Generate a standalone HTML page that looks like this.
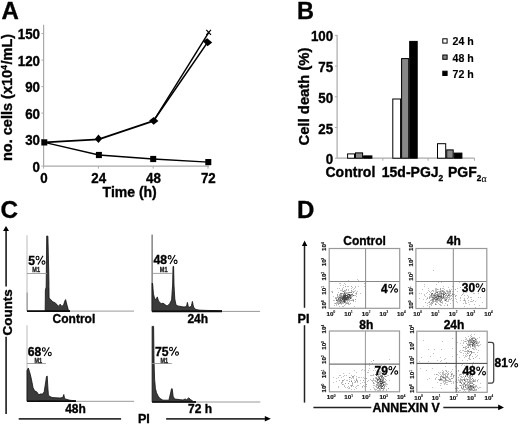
<!DOCTYPE html>
<html><head><meta charset="utf-8"><style>
html,body{margin:0;padding:0;background:#fff;width:520px;height:424px;overflow:hidden}
svg{display:block}
text{font-family:"Liberation Sans", sans-serif}
</style></head><body>
<svg width="520" height="424" viewBox="0 0 520 424" font-family='"Liberation Sans", sans-serif'><defs><filter id="bl" filterUnits="userSpaceOnUse" x="0" y="0" width="520" height="424"><feGaussianBlur stdDeviation="0.35"/></filter></defs><rect width="520" height="424" fill="#fff"/><g filter="url(#bl)"><text x="1.4" y="18.9" font-size="24" text-anchor="start" font-weight="bold" fill="#000" stroke="#000" stroke-width="0.35" >A</text>
<line x1="43.6" y1="24.7" x2="43.6" y2="166.1" stroke="#aaa" stroke-width="1.2" />
<line x1="43.6" y1="166.1" x2="209" y2="166.1" stroke="#aaa" stroke-width="1.2" />
<line x1="41.4" y1="166.1" x2="43.6" y2="166.1" stroke="#aaa" stroke-width="1" />
<text transform="translate(40,171.7) scale(0.965,1)" font-size="13.8" text-anchor="end" font-weight="bold" fill="#000" stroke="#000" stroke-width="0.35" >0</text>
<line x1="41.4" y1="139.6" x2="43.6" y2="139.6" stroke="#aaa" stroke-width="1" />
<text transform="translate(40,145.2) scale(0.965,1)" font-size="13.8" text-anchor="end" font-weight="bold" fill="#000" stroke="#000" stroke-width="0.35" >30</text>
<line x1="41.4" y1="113.1" x2="43.6" y2="113.1" stroke="#aaa" stroke-width="1" />
<text transform="translate(40,118.7) scale(0.965,1)" font-size="13.8" text-anchor="end" font-weight="bold" fill="#000" stroke="#000" stroke-width="0.35" >60</text>
<line x1="41.4" y1="86.6" x2="43.6" y2="86.6" stroke="#aaa" stroke-width="1" />
<text transform="translate(40,92.2) scale(0.965,1)" font-size="13.8" text-anchor="end" font-weight="bold" fill="#000" stroke="#000" stroke-width="0.35" >90</text>
<line x1="41.4" y1="60.099999999999994" x2="43.6" y2="60.099999999999994" stroke="#aaa" stroke-width="1" />
<text transform="translate(40,65.7) scale(0.965,1)" font-size="13.8" text-anchor="end" font-weight="bold" fill="#000" stroke="#000" stroke-width="0.35" >120</text>
<line x1="41.4" y1="33.599999999999994" x2="43.6" y2="33.599999999999994" stroke="#aaa" stroke-width="1" />
<text transform="translate(40,39.2) scale(0.965,1)" font-size="13.8" text-anchor="end" font-weight="bold" fill="#000" stroke="#000" stroke-width="0.35" >150</text>
<line x1="43.6" y1="166.1" x2="43.6" y2="168.6" stroke="#aaa" stroke-width="1" />
<text transform="translate(43.9,182.6) scale(0.965,1)" font-size="13.8" text-anchor="middle" font-weight="bold" fill="#000" stroke="#000" stroke-width="0.35" >0</text>
<line x1="98.4" y1="166.1" x2="98.4" y2="168.6" stroke="#aaa" stroke-width="1" />
<text transform="translate(98.7,182.6) scale(0.965,1)" font-size="13.8" text-anchor="middle" font-weight="bold" fill="#000" stroke="#000" stroke-width="0.35" >24</text>
<line x1="153.2" y1="166.1" x2="153.2" y2="168.6" stroke="#aaa" stroke-width="1" />
<text transform="translate(153.5,182.6) scale(0.965,1)" font-size="13.8" text-anchor="middle" font-weight="bold" fill="#000" stroke="#000" stroke-width="0.35" >48</text>
<line x1="207.99999999999997" y1="166.1" x2="207.99999999999997" y2="168.6" stroke="#aaa" stroke-width="1" />
<text transform="translate(208.3,182.6) scale(0.965,1)" font-size="13.8" text-anchor="middle" font-weight="bold" fill="#000" stroke="#000" stroke-width="0.35" >72</text>
<text x="102.6" y="196.8" font-size="14" text-anchor="start" font-weight="bold" fill="#000" stroke="#000" stroke-width="0.35" >Time (h)</text>
<text transform="translate(12.4,161.0) rotate(-90)" font-size="14.5" font-weight="bold" stroke="#000" stroke-width="0.35">no. cells (x10<tspan font-size="8.3" dx="0.3" dy="-5.2">4</tspan><tspan dx="0.5" dy="5.2">/mL)</tspan></text>
<polyline points="44.3,142.4 98.9,155.0 153.2,159.0 208.3,162.1" fill="none" stroke="#000" stroke-width="1.3" stroke-linejoin="round"/>
<polyline points="153.6,120.8 208.8,32.3" fill="none" stroke="#000" stroke-width="1.45" stroke-linejoin="round"/>
<polyline points="153.6,120.8 207.7,42.1" fill="none" stroke="#000" stroke-width="1.55" stroke-linejoin="round"/>
<polyline points="44.3,142.4 98.5,139.4 153.6,120.9" fill="none" stroke="#000" stroke-width="1.9" stroke-linejoin="round"/>
<rect x="41.3" y="139.3" width="6" height="6.2" fill="#000"/>
<rect x="95.9" y="151.9" width="6" height="6.2" fill="#000"/>
<rect x="150.2" y="155.9" width="6" height="6.2" fill="#000"/>
<rect x="205.3" y="159.0" width="6" height="6.2" fill="#000"/>
<path d="M94.8,139.0 L98.5,134.6 L102.1,138.8 L98.5,143.1Z" fill="#000"/>
<path d="M149.2,120.5 L153.8,117.0 L158.4,121.0 L153.6,124.8Z" fill="#000"/>
<path d="M202.9,41.2 L207.2,38.3 L212.2,42.6 L207.6,46.2Z" fill="#000"/>
<path d="M206.3,29.9 L211,34.8 M211,29.9 L206.3,34.8" stroke="#000" stroke-width="1.2"/>
<text x="296.9" y="18.7" font-size="23.5" text-anchor="start" font-weight="bold" fill="#000" stroke="#000" stroke-width="0.35" >B</text>
<line x1="337.1" y1="35.1" x2="337.1" y2="158.2" stroke="#aaa" stroke-width="1.2" />
<line x1="337.1" y1="158.2" x2="474.5" y2="158.2" stroke="#aaa" stroke-width="1.2" />
<line x1="334.90000000000003" y1="158.2" x2="337.1" y2="158.2" stroke="#aaa" stroke-width="1" />
<text transform="translate(333.1,164.2) scale(0.965,1)" font-size="13.8" text-anchor="end" font-weight="bold" fill="#000" stroke="#000" stroke-width="0.35" >0</text>
<line x1="334.90000000000003" y1="127.475" x2="337.1" y2="127.475" stroke="#aaa" stroke-width="1" />
<text transform="translate(333.1,133.5) scale(0.965,1)" font-size="13.8" text-anchor="end" font-weight="bold" fill="#000" stroke="#000" stroke-width="0.35" >25</text>
<line x1="334.90000000000003" y1="96.74999999999999" x2="337.1" y2="96.74999999999999" stroke="#aaa" stroke-width="1" />
<text transform="translate(333.1,102.7) scale(0.965,1)" font-size="13.8" text-anchor="end" font-weight="bold" fill="#000" stroke="#000" stroke-width="0.35" >50</text>
<line x1="334.90000000000003" y1="66.02499999999998" x2="337.1" y2="66.02499999999998" stroke="#aaa" stroke-width="1" />
<text transform="translate(333.1,72.0) scale(0.965,1)" font-size="13.8" text-anchor="end" font-weight="bold" fill="#000" stroke="#000" stroke-width="0.35" >75</text>
<line x1="334.90000000000003" y1="35.29999999999998" x2="337.1" y2="35.29999999999998" stroke="#aaa" stroke-width="1" />
<text transform="translate(333.1,41.3) scale(0.965,1)" font-size="13.8" text-anchor="end" font-weight="bold" fill="#000" stroke="#000" stroke-width="0.35" >100</text>
<line x1="382.8" y1="158.2" x2="382.8" y2="160.7" stroke="#aaa" stroke-width="1" />
<line x1="428.1" y1="158.2" x2="428.1" y2="160.7" stroke="#aaa" stroke-width="1" />
<line x1="474.5" y1="158.2" x2="474.5" y2="160.7" stroke="#aaa" stroke-width="1" />
<rect x="347.6" y="153.9" width="6.899999999999977" height="4.299999999999983" fill="#fff" stroke="#000" stroke-width="1"/>
<rect x="355.5" y="152.9" width="7.100000000000023" height="5.299999999999983" fill="#888" stroke="#000" stroke-width="1"/>
<rect x="363.6" y="155.9" width="8.299999999999955" height="2.299999999999983" fill="#000" stroke="#000" stroke-width="1"/>
<rect x="392.8" y="99.0" width="7.800000000000011" height="59.19999999999999" fill="#fff" stroke="#000" stroke-width="1"/>
<rect x="401.6" y="58.6" width="7.099999999999966" height="99.6" fill="#888" stroke="#000" stroke-width="1"/>
<rect x="409.7" y="41.4" width="7.5" height="116.79999999999998" fill="#000" stroke="#000" stroke-width="1"/>
<rect x="437.5" y="143.7" width="8.199999999999989" height="14.5" fill="#fff" stroke="#000" stroke-width="1"/>
<rect x="446.7" y="149.9" width="6.5" height="8.299999999999983" fill="#888" stroke="#000" stroke-width="1"/>
<rect x="454.2" y="153.1" width="7.699999999999989" height="5.099999999999994" fill="#000" stroke="#000" stroke-width="1"/>
<rect x="442.8" y="38.8" width="4.3" height="4.3" fill="#fff" stroke="#000" stroke-width="1"/>
<text x="452.6" y="44.8" font-size="10.6" text-anchor="start" font-weight="bold" fill="#000" stroke="#000" stroke-width="0.15" >24 h</text>
<rect x="442.8" y="55.0" width="4.3" height="4.3" fill="#888" stroke="#000" stroke-width="1"/>
<text x="452.6" y="61.5" font-size="10.6" text-anchor="start" font-weight="bold" fill="#000" stroke="#000" stroke-width="0.15" >48 h</text>
<rect x="442.8" y="71.19999999999999" width="4.3" height="4.3" fill="#000" stroke="#000" stroke-width="1"/>
<text x="452.6" y="78.2" font-size="10.6" text-anchor="start" font-weight="bold" fill="#000" stroke="#000" stroke-width="0.15" >72 h</text>
<text x="325.5" y="176.6" font-size="14" text-anchor="start" font-weight="bold" fill="#000" stroke="#000" stroke-width="0.35" >Control</text>
<text x="381.8" y="176.6" font-size="14" text-anchor="start" font-weight="bold" fill="#000" stroke="#000" stroke-width="0.35" >15d-PGJ<tspan font-size="8.3" dy="4.6">2</tspan></text>
<text x="448.0" y="176.6" font-size="14" text-anchor="start" font-weight="bold" fill="#000" stroke="#000" stroke-width="0.35" >PGF<tspan font-size="8.2" dy="4.8">2</tspan><tspan font-weight="normal" font-size="9.8" stroke-width="0.1" dx="0.2" dy="0.6" font-family="Liberation Serif">α</tspan></text>
<text transform="translate(309.2,145.4) rotate(-90)" font-size="14.8" font-weight="bold" stroke="#000" stroke-width="0.35">Cell death (%)</text>
<text x="0.6" y="217.6" font-size="24.3" text-anchor="start" font-weight="bold" fill="#000" stroke="#000" stroke-width="0.35" >C</text>
<line x1="6.1" y1="229" x2="6.1" y2="286.5" stroke="#333" stroke-width="1.8" />
<line x1="6.1" y1="336.8" x2="6.1" y2="414" stroke="#333" stroke-width="1.8" />
<path d="M6.0,225.9 L9.0,231 L3.0,231Z" fill="#000"/>
<text transform="translate(11.8,335.4) rotate(-90)" font-size="13.4" font-weight="bold" stroke="#000" stroke-width="0.35">Counts</text>
<line x1="18.7" y1="418.9" x2="121.1" y2="418.9" stroke="#333" stroke-width="1.8" />
<line x1="166.1" y1="418.9" x2="266" y2="418.9" stroke="#333" stroke-width="1.8" />
<path d="M270.8,418.8 L264.8,416 L264.8,421.6Z" fill="#000"/>
<text x="137.9" y="422.8" font-size="12.6" text-anchor="start" font-weight="bold" fill="#000" stroke="#000" stroke-width="0.35" >PI</text>
<line x1="27.2" y1="292.4" x2="27.2" y2="311.1" stroke="#888" stroke-width="1.3" />
<line x1="27" y1="235.3" x2="27" y2="311.1" stroke="#bbb" stroke-width="1" />
<line x1="27" y1="311.1" x2="134" y2="311.1" stroke="#999" stroke-width="1" />
<path d="M45.2,311.1 L45.4,290 L46.2,287 L46.7,236 L47.9,236.2 L48.8,275 L49.1,298.2 L50.7,299.4 L52.4,301.5 L54.9,302.7 L56.9,304.4 L58.2,306.4 L60.2,304.2 L61.9,306.4 L63.6,304.8 L65.0,300.5 L65.6,299.6 L66.9,304.8 L68.5,310.5 L70,311.1Z" fill="#3a3a3a" stroke="#111" stroke-width="0.8" stroke-linejoin="round"/>
<line x1="27" y1="311.1" x2="70" y2="311.1" stroke="#111" stroke-width="1.6" />
<text x="52.6" y="323.2" font-size="12" text-anchor="start" font-weight="bold" fill="#000" stroke="#000" stroke-width="0.35" >Control</text>
<text x="28.3" y="264.5" font-size="12.2" text-anchor="start" font-weight="bold" fill="#000" stroke="#000" stroke-width="0.35" >5</text>
<g transform="translate(35.08,264.5) scale(12.2)" fill="none" stroke="#000" stroke-width="0.088"><ellipse cx="0.2" cy="-0.53" rx="0.12" ry="0.14"/><ellipse cx="0.69" cy="-0.16" rx="0.12" ry="0.14"/><line x1="0.65" y1="-0.715" x2="0.23" y2="0.01"/></g>
<line x1="27" y1="273.5" x2="47" y2="273.5" stroke="#999" stroke-width="0.9" />
<text transform="translate(32.300000000000004,271.8) scale(0.88,1)" font-size="6.3" text-anchor="start" font-weight="bold" fill="#222" stroke="#222" stroke-width="0.3" >M1</text>
<line x1="152.1" y1="234.6" x2="152.1" y2="311.4" stroke="#444" stroke-width="1" />
<line x1="152.1" y1="311.4" x2="260" y2="311.4" stroke="#999" stroke-width="1" />
<path d="M152.1,311.4 L152.1,283 L152.6,283.7 L153.5,294.2 L154.5,298 L155.5,299.5 L156.5,298.5 L157.3,296.9 L158.5,301 L160,302.5 L161,303.8 L163,303.2 L165.3,304.8 L167,306 L168.5,305 L169.6,303.8 L171.6,300 L172.6,285 L173.0,266.4 L173.6,266.4 L174.0,285 L174.8,299 L176,305 L178,306 L181,306.5 L184,307 L186.5,306.5 L187.4,302.4 L188.3,306.8 L190,307.3 L191.5,305.5 L192.4,301.4 L193.3,306 L194,308 L196,309.6 L200,310.2 L210,310.5 L222,310.9Z" fill="#3a3a3a" stroke="#111" stroke-width="0.8" stroke-linejoin="round"/>
<line x1="152.1" y1="311.4" x2="222" y2="311.4" stroke="#111" stroke-width="1.6" />
<text x="187.4" y="322.8" font-size="12" text-anchor="start" font-weight="bold" fill="#000" stroke="#000" stroke-width="0.35" >24h</text>
<text x="153.6" y="263.79999999999995" font-size="12.2" text-anchor="start" font-weight="bold" fill="#000" stroke="#000" stroke-width="0.35" >48</text>
<g transform="translate(167.17,263.79999999999995) scale(12.2)" fill="none" stroke="#000" stroke-width="0.088"><ellipse cx="0.2" cy="-0.53" rx="0.12" ry="0.14"/><ellipse cx="0.69" cy="-0.16" rx="0.12" ry="0.14"/><line x1="0.65" y1="-0.715" x2="0.23" y2="0.01"/></g>
<line x1="152.1" y1="273.4" x2="172" y2="273.4" stroke="#999" stroke-width="0.9" />
<text transform="translate(159.79999999999998,272.0) scale(0.88,1)" font-size="6.3" text-anchor="start" font-weight="bold" fill="#222" stroke="#222" stroke-width="0.3" >M1</text>
<line x1="27" y1="325.3" x2="27" y2="401.3" stroke="#bbb" stroke-width="1" />
<line x1="27" y1="401.3" x2="134.1" y2="401.3" stroke="#999" stroke-width="1" />
<path d="M27,401.3 L27,370.6 L28.3,368 L29.5,371.7 L30.9,377 L32,382.3 L33,387.6 L34.6,390.8 L36.7,391.8 L38.9,395 L39.9,394 L42.6,394 L44.2,391.8 L45.8,381.2 L46.5,376.5 L47.2,376 L47.8,386.5 L48.4,395 L50,396.6 L52,397.5 L56,397.8 L60,398 L62.8,397.5 L63.8,394.5 L64.6,398.5 L66,399.2 L70,400.3 L76,400.8Z" fill="#3a3a3a" stroke="#111" stroke-width="0.8" stroke-linejoin="round"/>
<line x1="27" y1="401.3" x2="76" y2="401.3" stroke="#111" stroke-width="1.6" />
<text x="65.2" y="413.2" font-size="12" text-anchor="start" font-weight="bold" fill="#000" stroke="#000" stroke-width="0.35" >48h</text>
<text x="27.8" y="355.9" font-size="12.2" text-anchor="start" font-weight="bold" fill="#000" stroke="#000" stroke-width="0.35" >68</text>
<g transform="translate(41.37,355.9) scale(12.2)" fill="none" stroke="#000" stroke-width="0.088"><ellipse cx="0.2" cy="-0.53" rx="0.12" ry="0.14"/><ellipse cx="0.69" cy="-0.16" rx="0.12" ry="0.14"/><line x1="0.65" y1="-0.715" x2="0.23" y2="0.01"/></g>
<line x1="27" y1="363.5" x2="45.9" y2="363.5" stroke="#999" stroke-width="0.9" />
<text transform="translate(34.5,363.09999999999997) scale(0.88,1)" font-size="6.3" text-anchor="start" font-weight="bold" fill="#222" stroke="#222" stroke-width="0.3" >M1</text>
<line x1="152.2" y1="326.0" x2="152.2" y2="402.0" stroke="#bbb" stroke-width="1" />
<line x1="152.2" y1="402.0" x2="260.3" y2="402.0" stroke="#999" stroke-width="1" />
<path d="M152.2,402.0 L152.2,326.4 L153.6,326.4 L154,360 L154.6,379.2 L155.4,388.3 L156.5,392.8 L158.2,396.2 L160,398.5 L163,400.2 L168.9,400.2 L170.4,394 L171.5,388.8 L172.2,388.8 L173.1,396.2 L174.5,399 L183,400 L185.3,399 L186.5,399.8 L188.7,397.9 L190.6,399.6 L193.3,401.5 L196,402.0Z" fill="#3a3a3a" stroke="#111" stroke-width="0.8" stroke-linejoin="round"/>
<line x1="152.2" y1="402.0" x2="196" y2="402.0" stroke="#111" stroke-width="1.6" />
<text x="188.1" y="413.2" font-size="12" text-anchor="start" font-weight="bold" fill="#000" stroke="#000" stroke-width="0.35" >72 h</text>
<text x="155.0" y="355.5" font-size="12.2" text-anchor="start" font-weight="bold" fill="#000" stroke="#000" stroke-width="0.35" >75</text>
<g transform="translate(168.57,355.5) scale(12.2)" fill="none" stroke="#000" stroke-width="0.088"><ellipse cx="0.2" cy="-0.53" rx="0.12" ry="0.14"/><ellipse cx="0.69" cy="-0.16" rx="0.12" ry="0.14"/><line x1="0.65" y1="-0.715" x2="0.23" y2="0.01"/></g>
<line x1="152.2" y1="363.5" x2="171.8" y2="363.5" stroke="#999" stroke-width="0.9" />
<text transform="translate(160.4,363.09999999999997) scale(0.88,1)" font-size="6.3" text-anchor="start" font-weight="bold" fill="#222" stroke="#222" stroke-width="0.3" >M1</text>
<text x="297.0" y="217.7" font-size="24" text-anchor="start" font-weight="bold" fill="#000" stroke="#000" stroke-width="0.35" >D</text>
<line x1="304.5" y1="245" x2="304.5" y2="307.8" stroke="#222" stroke-width="1.5" />
<line x1="304.5" y1="325.2" x2="304.5" y2="402.6" stroke="#222" stroke-width="1.5" />
<path d="M304.6,240.4 L307.3,246 L301.9,246Z" fill="#000"/>
<text x="297.6" y="323.4" font-size="12.6" text-anchor="start" font-weight="bold" fill="#000" stroke="#000" stroke-width="0.35" >PI</text>
<line x1="313.4" y1="407.5" x2="371.3" y2="407.5" stroke="#222" stroke-width="1.5" />
<line x1="443.3" y1="407.4" x2="499" y2="407.4" stroke="#222" stroke-width="1.5" />
<path d="M504,407.4 L498.2,404.6 L498.2,410.2Z" fill="#000"/>
<text x="372.4" y="412.4" font-size="12.4" text-anchor="start" font-weight="bold" fill="#000" stroke="#000" stroke-width="0.35" >ANNEXIN V</text>
<path d="M357 279h1v1h-1zM348 280h1v1h-1zM358 280h1v1h-1zM355 281h1v1h-1zM359 281h1v1h-1zM339 283h2v1h-2zM344 283h1v1h-1zM364 283h1v1h-1zM345 284h1v1h-1zM340 285h1v1h-1zM343 285h1v1h-1zM347 286h2v1h-2zM355 286h1v1h-1zM358 286h1v1h-1zM364 286h1v1h-1zM343 287h1v1h-1zM352 287h1v1h-1zM355 287h1v1h-1zM337 288h1v1h-1zM339 288h1v1h-1zM342 288h1v1h-1zM351 288h1v1h-1zM354 288h1v1h-1zM342 289h1v1h-1zM348 289h1v1h-1zM353 289h1v1h-1zM340 290h3v1h-3zM345 290h2v1h-2zM348 290h1v1h-1zM355 290h1v1h-1zM331 291h2v1h-2zM342 291h1v1h-1zM344 291h2v1h-2zM351 291h4v1h-4zM357 291h1v1h-1zM338 292h1v1h-1zM345 292h3v1h-3zM356 292h1v1h-1zM343 293h1v1h-1zM347 293h2v1h-2zM352 293h1v1h-1zM355 293h1v1h-1zM360 293h1v1h-1zM339 294h1v1h-1zM341 294h1v1h-1zM356 294h1v1h-1zM342 295h1v1h-1zM348 295h1v1h-1zM352 295h1v1h-1zM354 295h2v1h-2zM333 296h1v1h-1zM337 296h3v1h-3zM346 296h1v1h-1zM351 296h2v1h-2zM356 296h1v1h-1zM335 297h2v1h-2zM338 297h1v1h-1zM349 298h1v1h-1zM351 298h1v1h-1zM337 299h1v1h-1zM341 299h1v1h-1zM352 299h2v1h-2zM333 300h2v1h-2zM342 300h1v1h-1zM348 300h3v1h-3zM352 300h1v1h-1zM347 301h1v1h-1zM349 301h1v1h-1zM353 301h1v1h-1zM355 301h1v1h-1zM336 302h1v1h-1zM338 302h2v1h-2zM341 302h1v1h-1zM343 302h1v1h-1zM346 302h3v1h-3zM334 303h1v1h-1zM336 303h2v1h-2zM342 303h2v1h-2zM345 303h1v1h-1zM336 304h1v1h-1zM341 304h1v1h-1zM345 304h1v1h-1zM348 304h2v1h-2zM334 305h1v1h-1zM336 305h1v1h-1zM344 305h1v1h-1zM339 306h1v1h-1zM342 306h2v1h-2zM354 306h1v1h-1z" fill="rgb(193,193,193)"/>
<path d="M345 286h1v1h-1zM351 286h1v1h-1zM346 289h1v1h-1zM344 290h1v1h-1zM351 290h1v1h-1zM332 292h1v1h-1zM348 292h1v1h-1zM350 292h1v1h-1zM353 292h1v1h-1zM342 293h1v1h-1zM345 293h2v1h-2zM356 293h1v1h-1zM337 294h1v1h-1zM340 294h1v1h-1zM350 294h1v1h-1zM337 295h1v1h-1zM339 295h3v1h-3zM351 295h1v1h-1zM340 296h1v1h-1zM337 297h1v1h-1zM351 297h1v1h-1zM335 298h2v1h-2zM339 298h1v1h-1zM336 299h1v1h-1zM339 299h1v1h-1zM349 299h1v1h-1zM355 299h1v1h-1zM338 300h1v1h-1zM346 300h2v1h-2zM351 300h1v1h-1zM337 301h2v1h-2zM340 301h1v1h-1zM342 301h1v1h-1zM337 302h1v1h-1zM342 302h1v1h-1zM345 302h1v1h-1zM335 303h1v1h-1zM338 303h4v1h-4zM346 303h3v1h-3zM350 303h1v1h-1zM338 304h1v1h-1z" fill="rgb(162,162,162)"/>
<path d="M343 291h1v1h-1zM344 292h1v1h-1zM349 292h1v1h-1zM351 292h1v1h-1zM340 293h2v1h-2zM343 294h2v1h-2zM347 294h1v1h-1zM351 294h2v1h-2zM341 296h2v1h-2zM350 296h1v1h-1zM341 297h1v1h-1zM340 298h1v1h-1zM348 299h1v1h-1zM337 300h1v1h-1zM339 300h1v1h-1zM345 300h1v1h-1zM353 300h1v1h-1zM339 301h1v1h-1zM341 301h1v1h-1zM345 301h1v1h-1z" fill="rgb(132,132,132)"/>
<path d="M344 293h1v1h-1zM345 294h1v1h-1zM343 295h1v1h-1zM347 295h1v1h-1zM353 295h1v1h-1zM348 296h2v1h-2zM339 297h2v1h-2zM342 297h1v1h-1zM349 297h2v1h-2zM338 298h1v1h-1zM341 298h1v1h-1zM347 298h2v1h-2zM338 299h1v1h-1zM340 299h1v1h-1zM343 299h1v1h-1zM347 299h1v1h-1zM336 300h1v1h-1zM340 300h2v1h-2zM343 300h1v1h-1zM343 301h1v1h-1zM340 302h1v1h-1zM344 302h1v1h-1z" fill="rgb(101,101,101)"/>
<path d="M348 294h2v1h-2zM344 295h3v1h-3zM349 295h2v1h-2zM343 296h3v1h-3zM347 296h1v1h-1zM343 297h6v1h-6zM342 298h5v1h-5zM350 298h1v1h-1zM342 299h1v1h-1zM344 299h3v1h-3zM344 300h1v1h-1zM344 301h1v1h-1z" fill="rgb(70,70,70)"/>
<rect x="329.2" y="248.5" width="70.5" height="59.80000000000001" fill="none" stroke="#999" stroke-width="1.2"/>
<line x1="365.6" y1="248.5" x2="365.6" y2="308.3" stroke="#888" stroke-width="1" />
<line x1="329.2" y1="281.5" x2="399.7" y2="281.5" stroke="#888" stroke-width="1" />
<text x="343.3" y="244.6" font-size="12" text-anchor="start" font-weight="bold" fill="#000" stroke="#000" stroke-width="0.35" >Control</text>
<text x="381.1" y="292.5" font-size="12" text-anchor="start" font-weight="bold" fill="#000" stroke="#000" stroke-width="0.35" >4</text>
<g transform="translate(387.77,292.5) scale(12)" fill="none" stroke="#000" stroke-width="0.088"><ellipse cx="0.2" cy="-0.53" rx="0.12" ry="0.14"/><ellipse cx="0.69" cy="-0.16" rx="0.12" ry="0.14"/><line x1="0.65" y1="-0.715" x2="0.23" y2="0.01"/></g>
<text x="326.6" y="315.5" font-size="6.2" font-weight="bold" fill="#111" stroke="#111" stroke-width="0.18">10<tspan font-size="3" dy="-2.4" font-weight="normal">0</tspan></text>
<text transform="translate(326.4,308.9) rotate(-90)" font-size="6.2" font-weight="bold" fill="#111" stroke="#111" stroke-width="0.18">10<tspan font-size="3" dy="-2.4" font-weight="normal">0</tspan></text>
<text x="344.2" y="315.5" font-size="6.2" font-weight="bold" fill="#111" stroke="#111" stroke-width="0.18">10<tspan font-size="3" dy="-2.4" font-weight="normal">1</tspan></text>
<text transform="translate(326.4,294.7) rotate(-90)" font-size="6.2" font-weight="bold" fill="#111" stroke="#111" stroke-width="0.18">10<tspan font-size="3" dy="-2.4" font-weight="normal">1</tspan></text>
<text x="361.8" y="315.5" font-size="6.2" font-weight="bold" fill="#111" stroke="#111" stroke-width="0.18">10<tspan font-size="3" dy="-2.4" font-weight="normal">2</tspan></text>
<text transform="translate(326.4,280.5) rotate(-90)" font-size="6.2" font-weight="bold" fill="#111" stroke="#111" stroke-width="0.18">10<tspan font-size="3" dy="-2.4" font-weight="normal">2</tspan></text>
<text x="379.5" y="315.5" font-size="6.2" font-weight="bold" fill="#111" stroke="#111" stroke-width="0.18">10<tspan font-size="3" dy="-2.4" font-weight="normal">3</tspan></text>
<text transform="translate(326.4,266.3) rotate(-90)" font-size="6.2" font-weight="bold" fill="#111" stroke="#111" stroke-width="0.18">10<tspan font-size="3" dy="-2.4" font-weight="normal">3</tspan></text>
<text x="397.1" y="315.5" font-size="6.2" font-weight="bold" fill="#111" stroke="#111" stroke-width="0.18">10<tspan font-size="3" dy="-2.4" font-weight="normal">4</tspan></text>
<text transform="translate(326.4,250.9) rotate(-90)" font-size="6.2" font-weight="bold" fill="#111" stroke="#111" stroke-width="0.18">10<tspan font-size="3" dy="-2.4" font-weight="normal">4</tspan></text>
<path d="M433 270h1v1h-1zM447 281h1v1h-1zM438 282h1v1h-1zM441 282h1v1h-1zM459 282h1v1h-1zM424 284h1v1h-1zM436 284h1v1h-1zM424 286h1v1h-1zM443 286h1v1h-1zM452 286h1v1h-1zM470 286h1v1h-1zM448 287h1v1h-1zM460 287h1v1h-1zM428 288h1v1h-1zM435 288h2v1h-2zM442 288h2v1h-2zM457 288h1v1h-1zM422 289h1v1h-1zM435 289h2v1h-2zM438 289h1v1h-1zM444 289h1v1h-1zM449 289h1v1h-1zM451 289h1v1h-1zM428 290h1v1h-1zM433 290h1v1h-1zM435 290h2v1h-2zM440 290h2v1h-2zM443 290h1v1h-1zM446 290h2v1h-2zM449 290h2v1h-2zM429 291h1v1h-1zM431 291h1v1h-1zM433 291h1v1h-1zM435 291h4v1h-4zM441 291h1v1h-1zM446 291h1v1h-1zM448 291h1v1h-1zM452 291h2v1h-2zM457 291h1v1h-1zM463 291h3v1h-3zM427 292h1v1h-1zM430 292h1v1h-1zM435 292h1v1h-1zM439 292h1v1h-1zM441 292h1v1h-1zM445 292h1v1h-1zM447 292h4v1h-4zM463 292h1v1h-1zM466 292h1v1h-1zM419 293h1v1h-1zM421 293h1v1h-1zM426 293h1v1h-1zM434 293h1v1h-1zM437 293h2v1h-2zM444 293h1v1h-1zM446 293h1v1h-1zM448 293h2v1h-2zM452 293h1v1h-1zM463 293h1v1h-1zM473 293h2v1h-2zM478 293h1v1h-1zM424 294h1v1h-1zM429 294h1v1h-1zM432 294h2v1h-2zM435 294h1v1h-1zM440 294h1v1h-1zM442 294h1v1h-1zM446 294h1v1h-1zM454 294h1v1h-1zM424 295h1v1h-1zM430 295h1v1h-1zM432 295h1v1h-1zM436 295h1v1h-1zM439 295h1v1h-1zM447 295h1v1h-1zM450 295h1v1h-1zM453 295h1v1h-1zM455 295h2v1h-2zM461 295h1v1h-1zM464 295h1v1h-1zM467 295h1v1h-1zM425 296h1v1h-1zM429 296h2v1h-2zM432 296h2v1h-2zM442 296h1v1h-1zM444 296h2v1h-2zM449 296h2v1h-2zM452 296h1v1h-1zM468 296h1v1h-1zM427 297h1v1h-1zM430 297h2v1h-2zM437 297h1v1h-1zM439 297h1v1h-1zM444 297h2v1h-2zM447 297h1v1h-1zM449 297h1v1h-1zM460 297h1v1h-1zM468 297h1v1h-1zM470 297h2v1h-2zM478 297h1v1h-1zM480 297h1v1h-1zM419 298h1v1h-1zM432 298h1v1h-1zM435 298h1v1h-1zM443 298h1v1h-1zM445 298h3v1h-3zM449 298h1v1h-1zM455 298h1v1h-1zM460 298h1v1h-1zM464 298h1v1h-1zM467 298h1v1h-1zM423 299h1v1h-1zM426 299h1v1h-1zM431 299h1v1h-1zM434 299h1v1h-1zM438 299h1v1h-1zM440 299h1v1h-1zM444 299h1v1h-1zM448 299h3v1h-3zM456 299h1v1h-1zM464 299h1v1h-1zM471 299h1v1h-1zM431 300h1v1h-1zM437 300h1v1h-1zM444 300h1v1h-1zM446 300h1v1h-1zM448 300h1v1h-1zM452 300h1v1h-1zM460 300h1v1h-1zM463 300h1v1h-1zM465 300h1v1h-1zM468 300h1v1h-1zM429 301h1v1h-1zM434 301h1v1h-1zM436 301h2v1h-2zM439 301h1v1h-1zM442 301h1v1h-1zM446 301h3v1h-3zM456 301h1v1h-1zM465 301h1v1h-1zM470 301h3v1h-3zM475 301h1v1h-1zM428 302h1v1h-1zM432 302h2v1h-2zM436 302h2v1h-2zM440 302h1v1h-1zM442 302h1v1h-1zM457 302h1v1h-1zM465 302h1v1h-1zM468 302h1v1h-1zM482 302h1v1h-1zM427 303h1v1h-1zM430 303h2v1h-2zM435 303h1v1h-1zM438 303h1v1h-1zM442 303h1v1h-1zM445 303h1v1h-1zM450 303h1v1h-1zM463 303h1v1h-1zM465 303h2v1h-2zM429 304h3v1h-3zM436 304h1v1h-1zM439 304h2v1h-2zM447 304h1v1h-1zM469 304h1v1h-1zM474 304h1v1h-1zM427 305h1v1h-1zM431 305h1v1h-1zM440 305h2v1h-2zM444 305h1v1h-1zM479 305h1v1h-1zM423 306h1v1h-1zM429 306h1v1h-1zM464 306h1v1h-1zM429 307h1v1h-1zM475 307h1v1h-1z" fill="rgb(193,193,193)"/>
<path d="M440 288h1v1h-1zM437 289h1v1h-1zM440 289h1v1h-1zM455 289h1v1h-1zM432 290h1v1h-1zM442 290h1v1h-1zM439 291h1v1h-1zM443 291h2v1h-2zM447 291h1v1h-1zM449 291h1v1h-1zM440 292h1v1h-1zM443 292h2v1h-2zM439 293h2v1h-2zM442 293h1v1h-1zM447 293h1v1h-1zM450 293h1v1h-1zM434 294h1v1h-1zM436 294h1v1h-1zM438 294h2v1h-2zM441 294h1v1h-1zM448 294h2v1h-2zM453 294h1v1h-1zM462 294h1v1h-1zM440 295h1v1h-1zM445 295h2v1h-2zM449 295h1v1h-1zM451 295h1v1h-1zM431 296h1v1h-1zM434 296h2v1h-2zM455 296h1v1h-1zM429 297h1v1h-1zM434 297h1v1h-1zM442 297h1v1h-1zM446 297h1v1h-1zM448 297h1v1h-1zM427 298h1v1h-1zM429 298h1v1h-1zM436 298h1v1h-1zM439 298h3v1h-3zM444 298h1v1h-1zM451 298h1v1h-1zM439 299h1v1h-1zM445 299h1v1h-1zM430 300h1v1h-1zM432 300h2v1h-2zM435 300h2v1h-2zM438 300h4v1h-4zM464 300h1v1h-1zM473 300h1v1h-1zM432 301h2v1h-2zM435 301h1v1h-1zM425 302h1v1h-1zM429 302h1v1h-1zM431 302h1v1h-1zM441 302h1v1h-1zM432 303h1v1h-1zM447 305h1v1h-1z" fill="rgb(162,162,162)"/>
<path d="M440 291h1v1h-1zM442 291h1v1h-1zM450 291h1v1h-1zM436 292h1v1h-1zM431 293h1v1h-1zM435 293h1v1h-1zM443 293h1v1h-1zM431 294h1v1h-1zM437 294h1v1h-1zM452 294h1v1h-1zM431 295h1v1h-1zM433 295h1v1h-1zM435 295h1v1h-1zM438 295h1v1h-1zM441 295h1v1h-1zM436 296h2v1h-2zM443 296h1v1h-1zM447 296h1v1h-1zM432 297h2v1h-2zM438 297h1v1h-1zM440 297h1v1h-1zM433 298h1v1h-1zM438 298h1v1h-1zM442 298h1v1h-1zM432 299h2v1h-2zM435 299h1v1h-1zM441 299h1v1h-1zM446 299h1v1h-1zM440 301h1v1h-1zM435 304h1v1h-1z" fill="rgb(132,132,132)"/>
<path d="M437 292h1v1h-1zM432 293h1v1h-1zM441 293h1v1h-1zM445 293h1v1h-1zM443 294h2v1h-2zM434 295h1v1h-1zM437 295h1v1h-1zM443 295h1v1h-1zM448 295h1v1h-1zM440 296h2v1h-2zM435 297h2v1h-2zM441 297h1v1h-1zM443 297h1v1h-1zM434 298h1v1h-1zM437 298h1v1h-1zM436 299h2v1h-2zM445 300h1v1h-1z" fill="rgb(101,101,101)"/>
<path d="M438 296h2v1h-2z" fill="rgb(70,70,70)"/>
<rect x="415.9" y="248.5" width="70.90000000000003" height="60.0" fill="none" stroke="#999" stroke-width="1.2"/>
<line x1="453.3" y1="248.5" x2="453.3" y2="308.5" stroke="#888" stroke-width="1" />
<line x1="415.9" y1="281.5" x2="486.8" y2="281.5" stroke="#888" stroke-width="1" />
<text x="446.8" y="245.3" font-size="12" text-anchor="start" font-weight="bold" fill="#000" stroke="#000" stroke-width="0.35" >4h</text>
<text x="461.8" y="291.9" font-size="12" text-anchor="start" font-weight="bold" fill="#000" stroke="#000" stroke-width="0.35" >30</text>
<g transform="translate(475.14,291.9) scale(12)" fill="none" stroke="#000" stroke-width="0.088"><ellipse cx="0.2" cy="-0.53" rx="0.12" ry="0.14"/><ellipse cx="0.69" cy="-0.16" rx="0.12" ry="0.14"/><line x1="0.65" y1="-0.715" x2="0.23" y2="0.01"/></g>
<text x="413.3" y="315.7" font-size="6.2" font-weight="bold" fill="#111" stroke="#111" stroke-width="0.18">10<tspan font-size="3" dy="-2.4" font-weight="normal">0</tspan></text>
<text transform="translate(413.2,309.1) rotate(-90)" font-size="6.2" font-weight="bold" fill="#111" stroke="#111" stroke-width="0.18">10<tspan font-size="3" dy="-2.4" font-weight="normal">0</tspan></text>
<text x="431.0" y="315.7" font-size="6.2" font-weight="bold" fill="#111" stroke="#111" stroke-width="0.18">10<tspan font-size="3" dy="-2.4" font-weight="normal">1</tspan></text>
<text transform="translate(413.2,294.9) rotate(-90)" font-size="6.2" font-weight="bold" fill="#111" stroke="#111" stroke-width="0.18">10<tspan font-size="3" dy="-2.4" font-weight="normal">1</tspan></text>
<text x="448.8" y="315.7" font-size="6.2" font-weight="bold" fill="#111" stroke="#111" stroke-width="0.18">10<tspan font-size="3" dy="-2.4" font-weight="normal">2</tspan></text>
<text transform="translate(413.2,280.7) rotate(-90)" font-size="6.2" font-weight="bold" fill="#111" stroke="#111" stroke-width="0.18">10<tspan font-size="3" dy="-2.4" font-weight="normal">2</tspan></text>
<text x="466.5" y="315.7" font-size="6.2" font-weight="bold" fill="#111" stroke="#111" stroke-width="0.18">10<tspan font-size="3" dy="-2.4" font-weight="normal">3</tspan></text>
<text transform="translate(413.2,266.5) rotate(-90)" font-size="6.2" font-weight="bold" fill="#111" stroke="#111" stroke-width="0.18">10<tspan font-size="3" dy="-2.4" font-weight="normal">3</tspan></text>
<text x="484.2" y="315.7" font-size="6.2" font-weight="bold" fill="#111" stroke="#111" stroke-width="0.18">10<tspan font-size="3" dy="-2.4" font-weight="normal">4</tspan></text>
<text transform="translate(413.2,250.9) rotate(-90)" font-size="6.2" font-weight="bold" fill="#111" stroke="#111" stroke-width="0.18">10<tspan font-size="3" dy="-2.4" font-weight="normal">4</tspan></text>
<path d="M389 359h1v1h-1zM371 361h1v1h-1zM369 363h1v1h-1zM372 363h1v1h-1zM369 365h1v1h-1zM381 365h1v1h-1zM375 366h1v1h-1zM379 366h1v1h-1zM369 368h1v1h-1zM374 368h1v1h-1zM387 368h1v1h-1zM362 369h1v1h-1zM354 370h1v1h-1zM361 370h1v1h-1zM364 370h1v1h-1zM368 370h1v1h-1zM373 370h1v1h-1zM375 370h1v1h-1zM377 370h2v1h-2zM379 371h2v1h-2zM356 372h1v1h-1zM367 372h2v1h-2zM379 372h3v1h-3zM343 373h1v1h-1zM349 373h1v1h-1zM379 373h2v1h-2zM365 374h1v1h-1zM373 374h1v1h-1zM377 374h1v1h-1zM380 374h1v1h-1zM339 375h2v1h-2zM344 375h1v1h-1zM346 375h1v1h-1zM351 375h1v1h-1zM354 375h1v1h-1zM370 375h4v1h-4zM378 375h1v1h-1zM387 375h2v1h-2zM343 376h1v1h-1zM356 376h1v1h-1zM377 376h1v1h-1zM384 376h1v1h-1zM386 376h1v1h-1zM333 377h1v1h-1zM338 377h1v1h-1zM341 377h1v1h-1zM350 377h1v1h-1zM352 377h2v1h-2zM358 377h2v1h-2zM361 377h1v1h-1zM363 377h1v1h-1zM375 377h1v1h-1zM382 377h1v1h-1zM336 378h1v1h-1zM351 378h1v1h-1zM353 378h1v1h-1zM356 378h1v1h-1zM364 378h1v1h-1zM373 378h1v1h-1zM375 378h1v1h-1zM377 378h2v1h-2zM380 378h2v1h-2zM384 378h1v1h-1zM344 379h1v1h-1zM349 379h1v1h-1zM370 379h1v1h-1zM373 379h1v1h-1zM376 379h1v1h-1zM339 380h1v1h-1zM346 380h2v1h-2zM351 380h1v1h-1zM354 380h1v1h-1zM357 380h1v1h-1zM360 380h1v1h-1zM368 380h1v1h-1zM371 380h5v1h-5zM378 380h2v1h-2zM381 380h1v1h-1zM386 380h1v1h-1zM389 380h1v1h-1zM336 381h1v1h-1zM342 381h1v1h-1zM367 381h1v1h-1zM372 381h1v1h-1zM377 381h1v1h-1zM385 381h1v1h-1zM333 382h1v1h-1zM341 382h2v1h-2zM352 382h1v1h-1zM354 382h2v1h-2zM357 382h1v1h-1zM362 382h1v1h-1zM364 382h2v1h-2zM376 382h1v1h-1zM379 382h1v1h-1zM381 382h1v1h-1zM385 382h1v1h-1zM341 383h1v1h-1zM360 383h1v1h-1zM374 383h1v1h-1zM379 383h1v1h-1zM383 383h1v1h-1zM385 383h2v1h-2zM343 384h1v1h-1zM352 384h1v1h-1zM378 384h1v1h-1zM385 384h3v1h-3zM344 385h1v1h-1zM350 385h1v1h-1zM357 385h2v1h-2zM363 385h1v1h-1zM373 385h2v1h-2zM376 385h1v1h-1zM384 385h2v1h-2zM338 386h1v1h-1zM344 386h1v1h-1zM348 386h1v1h-1zM353 386h1v1h-1zM356 386h1v1h-1zM364 386h1v1h-1zM366 386h1v1h-1zM375 386h1v1h-1zM386 386h1v1h-1zM338 387h1v1h-1zM345 387h1v1h-1zM347 387h1v1h-1zM349 387h1v1h-1zM355 387h1v1h-1zM362 387h1v1h-1zM373 387h1v1h-1zM376 387h2v1h-2zM383 387h2v1h-2zM348 388h2v1h-2zM356 388h1v1h-1zM374 388h1v1h-1zM378 388h1v1h-1zM380 388h1v1h-1zM351 389h1v1h-1zM354 389h1v1h-1zM370 389h1v1h-1zM374 389h3v1h-3zM379 389h2v1h-2zM386 389h1v1h-1zM375 390h1v1h-1zM377 390h4v1h-4zM382 390h2v1h-2zM386 390h1v1h-1z" fill="rgb(193,193,193)"/>
<path d="M373 360h1v1h-1zM377 373h1v1h-1zM378 374h2v1h-2zM380 375h1v1h-1zM382 375h1v1h-1zM352 376h2v1h-2zM378 376h2v1h-2zM376 377h1v1h-1zM366 378h1v1h-1zM382 378h2v1h-2zM356 379h1v1h-1zM379 379h1v1h-1zM381 379h2v1h-2zM385 379h1v1h-1zM342 380h2v1h-2zM356 380h1v1h-1zM363 380h1v1h-1zM383 380h1v1h-1zM349 381h1v1h-1zM355 381h1v1h-1zM357 381h1v1h-1zM375 381h2v1h-2zM383 381h2v1h-2zM373 382h1v1h-1zM380 382h1v1h-1zM345 383h1v1h-1zM348 383h1v1h-1zM352 383h1v1h-1zM373 383h1v1h-1zM377 383h2v1h-2zM342 384h1v1h-1zM366 384h1v1h-1zM376 384h2v1h-2zM379 384h2v1h-2zM384 384h1v1h-1zM351 385h2v1h-2zM377 385h3v1h-3zM382 385h1v1h-1zM351 386h1v1h-1zM362 386h1v1h-1zM376 386h1v1h-1zM380 386h1v1h-1zM380 387h1v1h-1zM377 388h1v1h-1zM383 388h2v1h-2zM388 388h1v1h-1zM383 389h1v1h-1z" fill="rgb(162,162,162)"/>
<path d="M378 371h1v1h-1zM382 373h1v1h-1zM375 374h1v1h-1zM381 375h1v1h-1zM380 376h2v1h-2zM385 376h1v1h-1zM349 377h1v1h-1zM378 377h2v1h-2zM383 377h1v1h-1zM376 378h1v1h-1zM383 379h1v1h-1zM351 381h1v1h-1zM382 381h1v1h-1zM377 382h1v1h-1zM384 382h1v1h-1zM381 385h1v1h-1zM378 386h2v1h-2zM384 386h1v1h-1zM381 387h1v1h-1zM379 388h1v1h-1zM382 388h1v1h-1z" fill="rgb(132,132,132)"/>
<path d="M376 375h1v1h-1zM382 376h1v1h-1zM381 377h1v1h-1zM377 379h2v1h-2zM377 380h1v1h-1zM380 380h1v1h-1zM382 380h1v1h-1zM379 381h1v1h-1zM378 382h1v1h-1zM383 382h1v1h-1zM382 383h1v1h-1zM381 384h1v1h-1zM383 384h1v1h-1zM380 385h1v1h-1zM383 385h1v1h-1zM381 386h1v1h-1zM378 387h1v1h-1zM381 388h1v1h-1z" fill="rgb(101,101,101)"/>
<path d="M379 378h1v1h-1zM380 379h1v1h-1zM380 381h2v1h-2zM382 382h1v1h-1zM380 383h2v1h-2zM382 386h1v1h-1z" fill="rgb(70,70,70)"/>
<rect x="329.4" y="331.0" width="70.10000000000002" height="60.80000000000001" fill="none" stroke="#999" stroke-width="1.2"/>
<line x1="365.4" y1="331.0" x2="365.4" y2="391.8" stroke="#999" stroke-width="1" />
<line x1="329.4" y1="364.1" x2="399.5" y2="364.1" stroke="#555" stroke-width="1" />
<text x="359.3" y="329.0" font-size="12" text-anchor="start" font-weight="bold" fill="#000" stroke="#000" stroke-width="0.35" >8h</text>
<text x="374.6" y="374.5" font-size="12" text-anchor="start" font-weight="bold" fill="#000" stroke="#000" stroke-width="0.35" >79</text>
<g transform="translate(387.94,374.5) scale(12)" fill="none" stroke="#000" stroke-width="0.088"><ellipse cx="0.2" cy="-0.53" rx="0.12" ry="0.14"/><ellipse cx="0.69" cy="-0.16" rx="0.12" ry="0.14"/><line x1="0.65" y1="-0.715" x2="0.23" y2="0.01"/></g>
<text x="326.8" y="399.0" font-size="6.2" font-weight="bold" fill="#111" stroke="#111" stroke-width="0.18">10<tspan font-size="3" dy="-2.4" font-weight="normal">0</tspan></text>
<text transform="translate(326.4,392.4) rotate(-90)" font-size="6.2" font-weight="bold" fill="#111" stroke="#111" stroke-width="0.18">10<tspan font-size="3" dy="-2.4" font-weight="normal">0</tspan></text>
<text x="344.3" y="399.0" font-size="6.2" font-weight="bold" fill="#111" stroke="#111" stroke-width="0.18">10<tspan font-size="3" dy="-2.4" font-weight="normal">1</tspan></text>
<text transform="translate(326.4,378.2) rotate(-90)" font-size="6.2" font-weight="bold" fill="#111" stroke="#111" stroke-width="0.18">10<tspan font-size="3" dy="-2.4" font-weight="normal">1</tspan></text>
<text x="361.8" y="399.0" font-size="6.2" font-weight="bold" fill="#111" stroke="#111" stroke-width="0.18">10<tspan font-size="3" dy="-2.4" font-weight="normal">2</tspan></text>
<text transform="translate(326.4,364.0) rotate(-90)" font-size="6.2" font-weight="bold" fill="#111" stroke="#111" stroke-width="0.18">10<tspan font-size="3" dy="-2.4" font-weight="normal">2</tspan></text>
<text x="379.4" y="399.0" font-size="6.2" font-weight="bold" fill="#111" stroke="#111" stroke-width="0.18">10<tspan font-size="3" dy="-2.4" font-weight="normal">3</tspan></text>
<text transform="translate(326.4,349.8) rotate(-90)" font-size="6.2" font-weight="bold" fill="#111" stroke="#111" stroke-width="0.18">10<tspan font-size="3" dy="-2.4" font-weight="normal">3</tspan></text>
<text x="396.9" y="399.0" font-size="6.2" font-weight="bold" fill="#111" stroke="#111" stroke-width="0.18">10<tspan font-size="3" dy="-2.4" font-weight="normal">4</tspan></text>
<text transform="translate(326.4,333.4) rotate(-90)" font-size="6.2" font-weight="bold" fill="#111" stroke="#111" stroke-width="0.18">10<tspan font-size="3" dy="-2.4" font-weight="normal">4</tspan></text>
<path d="M471 334h1v1h-1zM474 334h1v1h-1zM470 335h1v1h-1zM468 336h1v1h-1zM465 337h1v1h-1zM470 337h1v1h-1zM472 337h3v1h-3zM479 337h1v1h-1zM452 338h1v1h-1zM466 338h1v1h-1zM469 338h1v1h-1zM475 338h1v1h-1zM477 338h1v1h-1zM465 339h2v1h-2zM476 339h1v1h-1zM423 340h1v1h-1zM461 340h1v1h-1zM463 340h1v1h-1zM475 340h2v1h-2zM442 341h1v1h-1zM464 341h1v1h-1zM466 341h1v1h-1zM469 341h1v1h-1zM472 341h1v1h-1zM477 341h1v1h-1zM479 341h1v1h-1zM457 342h1v1h-1zM463 342h1v1h-1zM469 342h1v1h-1zM475 342h1v1h-1zM477 342h3v1h-3zM460 343h1v1h-1zM463 343h1v1h-1zM468 343h3v1h-3zM474 343h2v1h-2zM477 343h2v1h-2zM475 344h1v1h-1zM477 344h1v1h-1zM480 344h1v1h-1zM462 345h1v1h-1zM467 345h1v1h-1zM470 345h1v1h-1zM475 345h2v1h-2zM478 345h2v1h-2zM465 346h2v1h-2zM468 346h1v1h-1zM473 346h1v1h-1zM475 346h1v1h-1zM478 346h1v1h-1zM464 347h2v1h-2zM467 347h1v1h-1zM470 347h1v1h-1zM474 347h2v1h-2zM452 348h1v1h-1zM465 348h1v1h-1zM473 348h1v1h-1zM475 348h1v1h-1zM428 349h1v1h-1zM434 349h1v1h-1zM441 349h1v1h-1zM465 349h1v1h-1zM469 349h1v1h-1zM473 349h2v1h-2zM476 349h1v1h-1zM460 350h1v1h-1zM462 350h2v1h-2zM468 350h1v1h-1zM478 350h1v1h-1zM459 351h1v1h-1zM464 351h1v1h-1zM466 351h2v1h-2zM469 351h1v1h-1zM460 352h2v1h-2zM467 352h1v1h-1zM469 352h1v1h-1zM472 352h3v1h-3zM477 352h1v1h-1zM433 353h1v1h-1zM463 353h1v1h-1zM465 353h1v1h-1zM468 353h1v1h-1zM457 354h1v1h-1zM466 354h1v1h-1zM475 354h1v1h-1zM463 355h1v1h-1zM465 355h1v1h-1zM467 355h1v1h-1zM470 355h1v1h-1zM477 355h1v1h-1zM430 356h1v1h-1zM452 356h1v1h-1zM465 356h2v1h-2zM469 356h1v1h-1zM472 356h1v1h-1zM476 356h1v1h-1zM421 357h1v1h-1zM440 357h1v1h-1zM459 357h1v1h-1zM464 357h1v1h-1zM469 357h1v1h-1zM475 357h1v1h-1zM445 358h1v1h-1zM468 358h2v1h-2zM479 358h1v1h-1zM444 359h1v1h-1zM469 359h2v1h-2zM437 360h1v1h-1zM441 360h1v1h-1zM462 360h1v1h-1zM467 360h1v1h-1zM419 361h1v1h-1zM428 361h1v1h-1zM440 361h1v1h-1zM456 361h1v1h-1zM446 362h1v1h-1zM473 362h1v1h-1zM469 363h1v1h-1zM462 364h1v1h-1zM472 364h1v1h-1zM461 365h1v1h-1zM464 365h1v1h-1zM472 365h1v1h-1zM445 366h1v1h-1zM455 366h1v1h-1zM420 368h1v1h-1zM432 368h1v1h-1zM473 368h1v1h-1zM452 369h1v1h-1zM468 369h1v1h-1zM426 370h1v1h-1zM442 370h1v1h-1zM445 370h2v1h-2zM473 370h1v1h-1zM479 370h1v1h-1zM443 371h1v1h-1zM448 371h1v1h-1zM451 371h1v1h-1zM458 371h1v1h-1zM464 371h1v1h-1zM470 371h3v1h-3zM438 372h1v1h-1zM440 372h1v1h-1zM443 372h1v1h-1zM447 372h1v1h-1zM450 372h1v1h-1zM462 372h1v1h-1zM465 372h2v1h-2zM469 372h1v1h-1zM439 373h1v1h-1zM442 373h2v1h-2zM445 373h2v1h-2zM451 373h2v1h-2zM456 373h1v1h-1zM462 373h3v1h-3zM466 373h1v1h-1zM434 374h1v1h-1zM437 374h1v1h-1zM440 374h1v1h-1zM442 374h2v1h-2zM445 374h1v1h-1zM448 374h1v1h-1zM452 374h1v1h-1zM459 374h1v1h-1zM461 374h1v1h-1zM467 374h1v1h-1zM470 374h1v1h-1zM472 374h1v1h-1zM438 375h1v1h-1zM441 375h1v1h-1zM443 375h1v1h-1zM447 375h1v1h-1zM451 375h1v1h-1zM454 375h1v1h-1zM459 375h1v1h-1zM465 375h1v1h-1zM443 376h1v1h-1zM445 376h1v1h-1zM450 376h2v1h-2zM460 376h2v1h-2zM463 376h1v1h-1zM470 376h3v1h-3zM436 377h1v1h-1zM446 377h1v1h-1zM448 377h1v1h-1zM453 377h1v1h-1zM461 377h2v1h-2zM464 377h1v1h-1zM469 377h1v1h-1zM429 378h1v1h-1zM435 378h1v1h-1zM441 378h1v1h-1zM443 378h2v1h-2zM448 378h2v1h-2zM460 378h1v1h-1zM464 378h1v1h-1zM466 378h1v1h-1zM469 378h1v1h-1zM427 379h1v1h-1zM435 379h1v1h-1zM442 379h1v1h-1zM446 379h1v1h-1zM450 379h1v1h-1zM456 379h1v1h-1zM458 379h1v1h-1zM462 379h1v1h-1zM465 379h2v1h-2zM468 379h3v1h-3zM475 379h1v1h-1zM478 379h1v1h-1zM440 380h5v1h-5zM448 380h1v1h-1zM450 380h1v1h-1zM456 380h1v1h-1zM458 380h4v1h-4zM465 380h1v1h-1zM467 380h1v1h-1zM470 380h1v1h-1zM472 380h1v1h-1zM474 380h2v1h-2zM443 381h3v1h-3zM448 381h1v1h-1zM451 381h1v1h-1zM453 381h1v1h-1zM455 381h1v1h-1zM459 381h1v1h-1zM462 381h1v1h-1zM466 381h3v1h-3zM471 381h2v1h-2zM475 381h1v1h-1zM477 381h1v1h-1zM437 382h1v1h-1zM443 382h1v1h-1zM445 382h3v1h-3zM453 382h1v1h-1zM456 382h2v1h-2zM459 382h1v1h-1zM461 382h1v1h-1zM463 382h3v1h-3zM467 382h1v1h-1zM469 382h1v1h-1zM471 382h2v1h-2zM440 383h2v1h-2zM444 383h2v1h-2zM451 383h1v1h-1zM453 383h1v1h-1zM463 383h1v1h-1zM480 383h1v1h-1zM444 384h1v1h-1zM446 384h2v1h-2zM462 384h1v1h-1zM464 384h1v1h-1zM467 384h2v1h-2zM474 384h1v1h-1zM440 385h1v1h-1zM459 385h1v1h-1zM461 385h3v1h-3zM466 385h1v1h-1zM469 385h1v1h-1zM473 385h1v1h-1zM475 385h2v1h-2zM456 386h1v1h-1zM461 386h1v1h-1zM464 386h1v1h-1zM467 386h1v1h-1zM474 386h1v1h-1zM476 386h1v1h-1zM432 387h1v1h-1zM457 387h1v1h-1zM466 387h2v1h-2zM474 387h2v1h-2zM477 387h1v1h-1zM479 387h2v1h-2zM441 388h1v1h-1zM456 388h3v1h-3zM461 388h1v1h-1zM463 388h1v1h-1zM466 388h1v1h-1zM472 388h2v1h-2zM478 388h1v1h-1zM456 389h1v1h-1zM462 389h2v1h-2zM465 389h4v1h-4zM475 389h1v1h-1zM457 390h1v1h-1zM459 390h2v1h-2zM464 390h1v1h-1zM468 390h2v1h-2zM471 390h2v1h-2zM475 390h2v1h-2zM458 391h1v1h-1zM463 391h1v1h-1zM465 391h1v1h-1zM468 391h2v1h-2z" fill="rgb(193,193,193)"/>
<path d="M471 336h1v1h-1zM473 338h2v1h-2zM469 339h3v1h-3zM467 340h2v1h-2zM471 340h2v1h-2zM465 341h1v1h-1zM470 341h1v1h-1zM474 341h1v1h-1zM476 341h1v1h-1zM468 342h1v1h-1zM473 342h1v1h-1zM476 342h1v1h-1zM466 343h1v1h-1zM472 343h1v1h-1zM467 344h2v1h-2zM471 344h1v1h-1zM473 344h1v1h-1zM468 345h1v1h-1zM473 345h2v1h-2zM477 345h1v1h-1zM470 346h1v1h-1zM472 346h1v1h-1zM474 346h1v1h-1zM466 348h1v1h-1zM472 348h1v1h-1zM467 350h1v1h-1zM465 351h1v1h-1zM467 353h1v1h-1zM471 353h1v1h-1zM473 358h1v1h-1zM466 369h1v1h-1zM458 370h1v1h-1zM446 371h1v1h-1zM456 371h1v1h-1zM469 371h1v1h-1zM442 372h1v1h-1zM448 373h1v1h-1zM471 373h1v1h-1zM436 374h1v1h-1zM444 374h1v1h-1zM447 374h1v1h-1zM460 374h1v1h-1zM463 374h1v1h-1zM445 375h1v1h-1zM453 375h1v1h-1zM467 375h1v1h-1zM469 375h1v1h-1zM472 375h1v1h-1zM440 376h3v1h-3zM446 376h2v1h-2zM453 376h1v1h-1zM467 376h1v1h-1zM469 376h1v1h-1zM440 377h1v1h-1zM442 377h1v1h-1zM444 377h2v1h-2zM447 377h1v1h-1zM458 377h1v1h-1zM468 377h1v1h-1zM470 377h1v1h-1zM440 378h1v1h-1zM451 378h2v1h-2zM470 378h1v1h-1zM438 379h2v1h-2zM449 379h1v1h-1zM460 379h2v1h-2zM463 379h1v1h-1zM471 379h1v1h-1zM473 379h1v1h-1zM439 380h1v1h-1zM445 380h3v1h-3zM462 380h1v1h-1zM469 380h1v1h-1zM473 380h1v1h-1zM477 380h1v1h-1zM449 381h2v1h-2zM460 381h1v1h-1zM465 381h1v1h-1zM469 381h2v1h-2zM474 381h1v1h-1zM470 382h1v1h-1zM467 383h1v1h-1zM469 383h3v1h-3zM463 384h1v1h-1zM465 384h2v1h-2zM469 384h1v1h-1zM467 385h2v1h-2zM471 385h2v1h-2zM465 386h1v1h-1zM468 386h1v1h-1zM473 386h1v1h-1zM475 386h1v1h-1zM465 387h1v1h-1zM469 387h1v1h-1zM471 387h2v1h-2zM455 388h1v1h-1zM462 388h1v1h-1zM467 388h4v1h-4zM474 388h1v1h-1zM464 389h1v1h-1zM472 389h1v1h-1zM474 389h1v1h-1zM476 389h1v1h-1zM470 390h1v1h-1zM474 390h1v1h-1z" fill="rgb(162,162,162)"/>
<path d="M471 338h2v1h-2zM472 339h1v1h-1zM469 340h2v1h-2zM474 340h1v1h-1zM468 341h1v1h-1zM471 341h1v1h-1zM473 341h1v1h-1zM475 341h1v1h-1zM470 342h2v1h-2zM469 344h2v1h-2zM474 344h1v1h-1zM469 345h1v1h-1zM463 347h1v1h-1zM468 347h1v1h-1zM468 351h1v1h-1zM470 351h2v1h-2zM471 352h1v1h-1zM470 354h1v1h-1zM469 355h1v1h-1zM451 374h1v1h-1zM468 374h1v1h-1zM470 375h1v1h-1zM445 378h1v1h-1zM472 378h1v1h-1zM441 379h1v1h-1zM445 379h1v1h-1zM464 379h1v1h-1zM467 379h1v1h-1zM473 381h1v1h-1zM468 382h1v1h-1zM461 383h1v1h-1zM472 383h1v1h-1zM473 384h1v1h-1zM460 385h1v1h-1zM463 386h1v1h-1zM469 386h1v1h-1zM472 386h1v1h-1zM461 387h1v1h-1zM463 387h1v1h-1zM470 387h1v1h-1zM471 388h1v1h-1zM470 389h2v1h-2zM473 390h1v1h-1z" fill="rgb(132,132,132)"/>
<path d="M475 339h1v1h-1zM473 340h1v1h-1zM472 342h1v1h-1zM474 342h1v1h-1zM476 343h1v1h-1zM472 344h1v1h-1zM465 376h1v1h-1zM443 377h1v1h-1zM440 379h1v1h-1zM464 380h1v1h-1zM460 382h1v1h-1zM464 383h1v1h-1zM465 385h1v1h-1zM470 385h1v1h-1zM470 386h2v1h-2zM468 387h1v1h-1zM469 389h1v1h-1z" fill="rgb(101,101,101)"/>
<path d="M473 343h1v1h-1zM472 345h1v1h-1zM473 387h1v1h-1z" fill="rgb(70,70,70)"/>
<rect x="416.8" y="331.2" width="70.39999999999998" height="61.10000000000002" fill="none" stroke="#999" stroke-width="1.2"/>
<line x1="456.2" y1="331.2" x2="456.2" y2="392.3" stroke="#555" stroke-width="1" />
<line x1="416.8" y1="363.4" x2="487.2" y2="363.4" stroke="#444" stroke-width="1" />
<text x="443.7" y="329.0" font-size="12" text-anchor="start" font-weight="bold" fill="#000" stroke="#000" stroke-width="0.35" >24h</text>
<text x="462.4" y="375.1" font-size="12" text-anchor="start" font-weight="bold" fill="#000" stroke="#000" stroke-width="0.35" >48</text>
<g transform="translate(475.74,375.1) scale(12)" fill="none" stroke="#000" stroke-width="0.088"><ellipse cx="0.2" cy="-0.53" rx="0.12" ry="0.14"/><ellipse cx="0.69" cy="-0.16" rx="0.12" ry="0.14"/><line x1="0.65" y1="-0.715" x2="0.23" y2="0.01"/></g>
<text x="414.2" y="399.5" font-size="6.2" font-weight="bold" fill="#111" stroke="#111" stroke-width="0.18">10<tspan font-size="3" dy="-2.4" font-weight="normal">0</tspan></text>
<text transform="translate(414.0,392.9) rotate(-90)" font-size="6.2" font-weight="bold" fill="#111" stroke="#111" stroke-width="0.18">10<tspan font-size="3" dy="-2.4" font-weight="normal">0</tspan></text>
<text x="431.8" y="399.5" font-size="6.2" font-weight="bold" fill="#111" stroke="#111" stroke-width="0.18">10<tspan font-size="3" dy="-2.4" font-weight="normal">1</tspan></text>
<text transform="translate(414.0,378.7) rotate(-90)" font-size="6.2" font-weight="bold" fill="#111" stroke="#111" stroke-width="0.18">10<tspan font-size="3" dy="-2.4" font-weight="normal">1</tspan></text>
<text x="449.4" y="399.5" font-size="6.2" font-weight="bold" fill="#111" stroke="#111" stroke-width="0.18">10<tspan font-size="3" dy="-2.4" font-weight="normal">2</tspan></text>
<text transform="translate(414.0,364.5) rotate(-90)" font-size="6.2" font-weight="bold" fill="#111" stroke="#111" stroke-width="0.18">10<tspan font-size="3" dy="-2.4" font-weight="normal">2</tspan></text>
<text x="467.0" y="399.5" font-size="6.2" font-weight="bold" fill="#111" stroke="#111" stroke-width="0.18">10<tspan font-size="3" dy="-2.4" font-weight="normal">3</tspan></text>
<text transform="translate(414.0,350.3) rotate(-90)" font-size="6.2" font-weight="bold" fill="#111" stroke="#111" stroke-width="0.18">10<tspan font-size="3" dy="-2.4" font-weight="normal">3</tspan></text>
<text x="484.6" y="399.5" font-size="6.2" font-weight="bold" fill="#111" stroke="#111" stroke-width="0.18">10<tspan font-size="3" dy="-2.4" font-weight="normal">4</tspan></text>
<text transform="translate(414.0,333.6) rotate(-90)" font-size="6.2" font-weight="bold" fill="#111" stroke="#111" stroke-width="0.18">10<tspan font-size="3" dy="-2.4" font-weight="normal">4</tspan></text>
<path d="M488,342.4 L491.5,342.4 Q493.7,342.4 493.7,345 L493.7,380.5 Q493.7,383 491.5,383 L488,383" fill="none" stroke="#444" stroke-width="1.25"/>
<text x="494.6" y="367.2" font-size="12" text-anchor="start" font-weight="bold" fill="#000" stroke="#000" stroke-width="0.35" >81</text>
<g transform="translate(507.94,367.2) scale(12)" fill="none" stroke="#000" stroke-width="0.088"><ellipse cx="0.2" cy="-0.53" rx="0.12" ry="0.14"/><ellipse cx="0.69" cy="-0.16" rx="0.12" ry="0.14"/><line x1="0.65" y1="-0.715" x2="0.23" y2="0.01"/></g></g></svg>
</body></html>
